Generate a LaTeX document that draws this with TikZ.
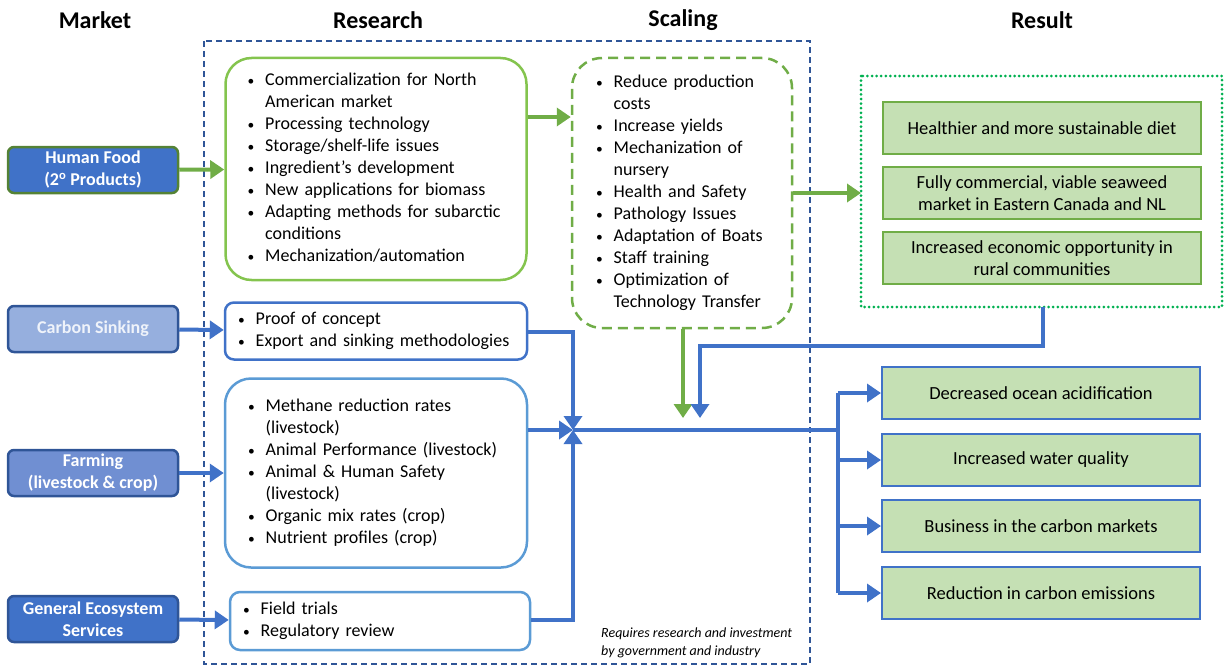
\documentclass[tikz,border=0pt]{standalone}
\usepackage{fontspec}
\setmainfont{Carlito}
\usepackage{tikz}
\usetikzlibrary{arrows.meta}

\definecolor{navy}{RGB}{47,85,151}
\definecolor{midblue}{RGB}{64,114,200}
\definecolor{skyblue}{RGB}{91,155,213}
\definecolor{paleblue}{RGB}{150,175,222}
\definecolor{farmblue}{RGB}{112,143,210}
\definecolor{leaf}{RGB}{112,173,71}
\definecolor{lime}{RGB}{132,196,78}
\definecolor{forest}{RGB}{84,130,53}
\definecolor{dotgreen}{RGB}{0,176,80}
\definecolor{resfill}{RGB}{197,224,180}

\newcommand{\bodyfont}{\fontsize{18}{22}\selectfont}

\tikzset{
  market/.style={draw=navy, line width=2.5pt, rounded corners=6pt,
    minimum width=170pt, minimum height=46pt, align=center,
    text=white, font=\fontsize{18}{22}\selectfont\bfseries},
  resbox/.style={draw, line width=2.5pt, fill=white, align=left,
    font=\bodyfont, inner ysep=0pt},
  outcome/.style={draw, line width=2pt, fill=resfill,
    minimum width=318pt, minimum height=52pt, align=center,
    font=\fontsize{18.5}{22}\selectfont},
  head/.style={font=\fontsize{24}{28}\selectfont\bfseries},
  flow/.style={line width=4pt, -{Triangle[width=18pt,length=14pt]}},
  pipe/.style={line width=4pt}
}

% bullet list inside the boxes
\newcommand{\blist}[1]{\begin{tabular}{@{}c@{\hspace{11pt}}l@{}}#1\end{tabular}}
\newcommand{\bi}{\scalebox{0.75}{\textbullet} &}

\begin{document}
\begin{tikzpicture}[x=1pt,y=-1pt]
  \useasboundingbox (0,0) rectangle (1228,669);

  % column headings
  \node[head] (h-market)  at (95,20)   {Market};
  \node[head] (h-research) at (378,20) {Research};
  \node[head] (h-scaling) at (683,20)  {Scaling};
  \node[head] (h-result)  at (1042,20) {Result};

  % research and scaling frame
  \draw[navy, line width=1.3pt, dash pattern=on 6pt off 4pt] (204,41) rectangle (810,664);

  % market
  \node[market, draw=forest, fill=midblue] (M-1) at (93,170) {Human Food\\(2\textsuperscript{o} Products)};
  \node[market, fill=paleblue, text=white!85!paleblue] (M-2) at (93,329) {Carbon Sinking};
  \node[market, fill=farmblue] (M-3) at (93,473) {Farming\\(livestock \& crop)};
  \node[market, fill=midblue] (M-4) at (93,619) {General Ecosystem\\Services};

  % research
  \node[resbox, draw=lime, rounded corners=26pt, text width=257pt, inner xsep=22pt,
    minimum height=222pt] (R-1) at (376,169) {\blist{
    \bi Commercialization for North\\
     & American market\\
    \bi Processing technology\\
    \bi Storage/shelf-life issues\\
    \bi Ingredient's development\\
    \bi New applications for biomass\\
    \bi Adapting methods for subarctic\\
     & conditions\\
    \bi Mechanization/automation}};
  \node[resbox, draw=midblue, rounded corners=9pt, text width=276pt, inner xsep=13pt,
    minimum height=57pt] (R-2) at (376,331) {\blist{
    \bi Proof of concept\\
    \bi Export and sinking methodologies}};
  \node[resbox, draw=skyblue, rounded corners=26pt, text width=256pt, inner xsep=23pt,
    minimum height=189pt] (R-3) at (376,473) {\blist{
    \bi Methane reduction rates\\
     & (livestock)\\
    \bi Animal Performance (livestock)\\
    \bi Animal \& Human Safety\\
     & (livestock)\\
    \bi Organic mix rates (crop)\\
    \bi Nutrient profiles (crop)}};
  \node[resbox, draw=skyblue, rounded corners=10pt, text width=274pt, inner xsep=13pt,
    minimum height=58pt] (R-4) at (380,621) {\blist{
    \bi Field trials\\
    \bi Regulatory review}};

  % scaling
  \node[resbox, draw=leaf, dash pattern=on 10pt off 6pt, rounded corners=30pt,
    text width=172pt, inner xsep=24pt, minimum height=270pt] (S-1) at (682,193) {\blist{
    \bi Reduce production\\
     & costs\\
    \bi Increase yields\\
    \bi Mechanization of\\
     & nursery\\
    \bi Health and Safety\\
    \bi Pathology Issues\\
    \bi Adaptation of Boats\\
    \bi Staff training\\
    \bi Optimization of\\
     & Technology Transfer}};

  \node[align=left, anchor=north west, inner sep=0pt,
    font=\fontsize{14}{18}\selectfont\itshape] (note) at (601,628)
    {Requires research and investment\\by government and industry};

  % result
  \draw[dotgreen, line width=3pt, dash pattern=on 0pt off 4.6pt, line cap=round]
    (861,76) rectangle (1222,307);
  \node[coordinate] (D-w) at (861,193) {};
  \node[coordinate] (D-s) at (1043,307) {};
  \node[outcome, draw=leaf] (O-1) at (1042,128) {Healthier and more sustainable diet};
  \node[outcome, draw=leaf] (O-2) at (1042,193) {Fully commercial, viable seaweed\\market in Eastern Canada and NL};
  \node[outcome, draw=leaf] (O-3) at (1042,258) {Increased economic opportunity in\\rural communities};
  \node[outcome, draw=midblue] (O-4) at (1041,393) {Decreased ocean acidification};
  \node[outcome, draw=midblue] (O-5) at (1041,460) {Increased water quality};
  \node[outcome, draw=midblue] (O-6) at (1041,526) {Business in the carbon markets};
  \node[outcome, draw=midblue] (O-7) at (1041,593) {Reduction in carbon emissions};

  % green flow
  \draw[flow, leaf] (M-1) -- (R-1);
  \draw[flow, leaf] (R-1.east |- 0,117) -- (S-1.west |- 0,117);
  \draw[flow, leaf] (S-1) -- (D-w);
  \draw[flow, leaf] (S-1.south -| 683,0) -- (683,418);

  % blue flow
  \node[coordinate] (hub) at (573,430) {};
  \node[coordinate] (fork) at (838,430) {};
  \draw[flow, midblue] (M-2) -- (R-2);
  \draw[flow, midblue] (M-3) -- (R-3);
  \draw[flow, midblue] (M-4) -- (R-4);
  \draw[flow, midblue] (R-2.east |- 0,332) -| (hub);
  \draw[flow, midblue] (R-3.east |- hub) -- (hub);
  \draw[flow, midblue] (R-4.east |- 0,620) -| (hub);
  \draw[flow, midblue] (D-s) |- (700,346) -- (700,418);
  \draw[pipe, midblue] (hub) -- (fork);
  \draw[pipe, midblue] (fork |- O-4) -- (fork |- O-7);
  \foreach \o in {4,...,7}
    \draw[flow, midblue] (fork |- O-\o) -- (O-\o);
\end{tikzpicture}
\end{document}
